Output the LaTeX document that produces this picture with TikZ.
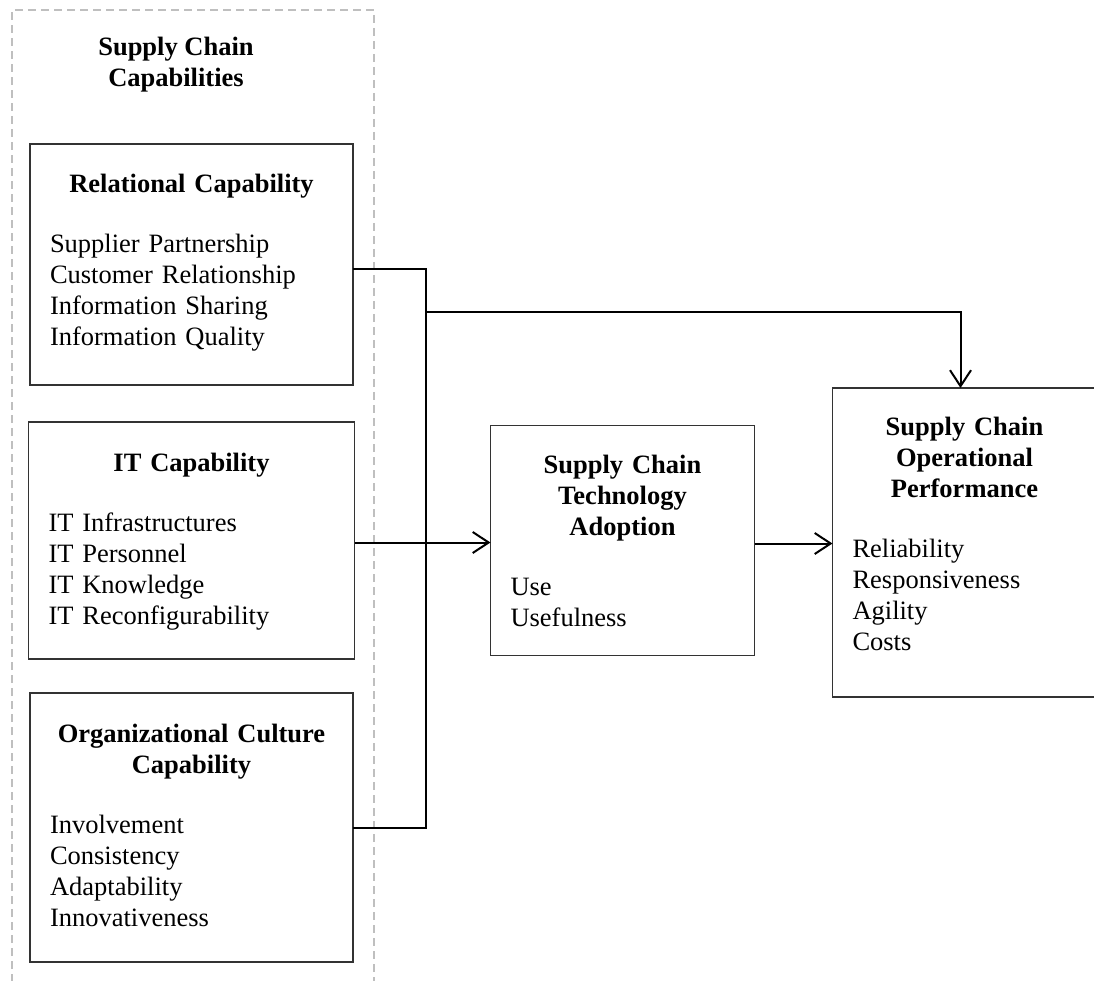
\documentclass[tikz,border=0pt]{standalone}
\usepackage{fontspec}
\setmainfont{Liberation Serif}
\usetikzlibrary{arrows.meta, positioning}

% bold heading of a box, then the gap before its items
\newcommand{\boxhead}[1]{{\centering\bfseries #1\par}\vspace{29pt}}

\begin{document}
\begin{tikzpicture}[
  x=1pt, y=-1pt,
  every node/.style={font=\fontsize{26.5pt}{31pt}\selectfont},
  capbox/.style={rectangle, draw=black!80, line width=1.3pt, align=left,
                 inner xsep=20pt, inner ysep=0pt, outer sep=0pt,
                 text width=#1, text height=49pt},
  capbox/.default=283pt,
  link/.style={line width=2pt, draw=black},
  arr/.style={link, -{Straight Barb[length=16pt, width=21pt]}},
  frame/.style={dash pattern=on 8pt off 5pt, line width=1.5pt, draw=black!25}
]
\useasboundingbox (0,0) rectangle (1094,981);
\clip (0,0) rectangle (1094,981);

% capabilities group
\draw[frame] (12,995) -- (12,10) -- (374,10) -- (374,995);
\node[font=\fontsize{26.5pt}{31pt}\selectfont\bfseries, align=center, inner sep=0pt]
  (scc) at (176,65) {Supply Chain\\Capabilities};

\node[capbox, text depth=192pt, anchor=north west] (rel) at (30,144)
  {\boxhead{Relational Capability}Supplier Partnership\\Customer Relationship\\Information Sharing\\Information Quality};
\node[capbox=286pt, text depth=188pt, below=37pt of rel] (it)
  {\boxhead{IT Capability}IT Infrastructures\\IT Personnel\\IT Knowledge\\IT Reconfigurability};
\node[capbox, text depth=220pt, below=34pt of it] (org)
  {\boxhead{Organizational Culture\\Capability}Involvement\\Consistency\\Adaptability\\Innovativeness};

\node[capbox=224pt, text height=48pt, text depth=182pt, right=136pt of it] (adopt)
  {\boxhead{Supply Chain\\Technology\\Adoption}Use\\Usefulness};
\node[capbox=224pt, text height=47pt, text depth=262pt, right=78pt of adopt, yshift=-2pt] (perf)
  {\boxhead{Supply Chain\\Operational\\Performance}Reliability\\Responsiveness\\Agility\\Costs};

% connectors
\coordinate (bus) at (426,0);
\coordinate (split) at (426,312);
\draw[link] ([yshift=-5pt]rel.east) -| (bus |- org.east) -- (org.east);
\draw[arr] (split) -| ([xshift=-4pt]perf.north);
\draw[arr] ([yshift=-2pt]it.east) -- ([yshift=-2pt]adopt.west);
\draw[arr] ([yshift=-3pt]adopt.east) -- ([yshift=-3pt]adopt.east -| perf.west);
\end{tikzpicture}
\end{document}
